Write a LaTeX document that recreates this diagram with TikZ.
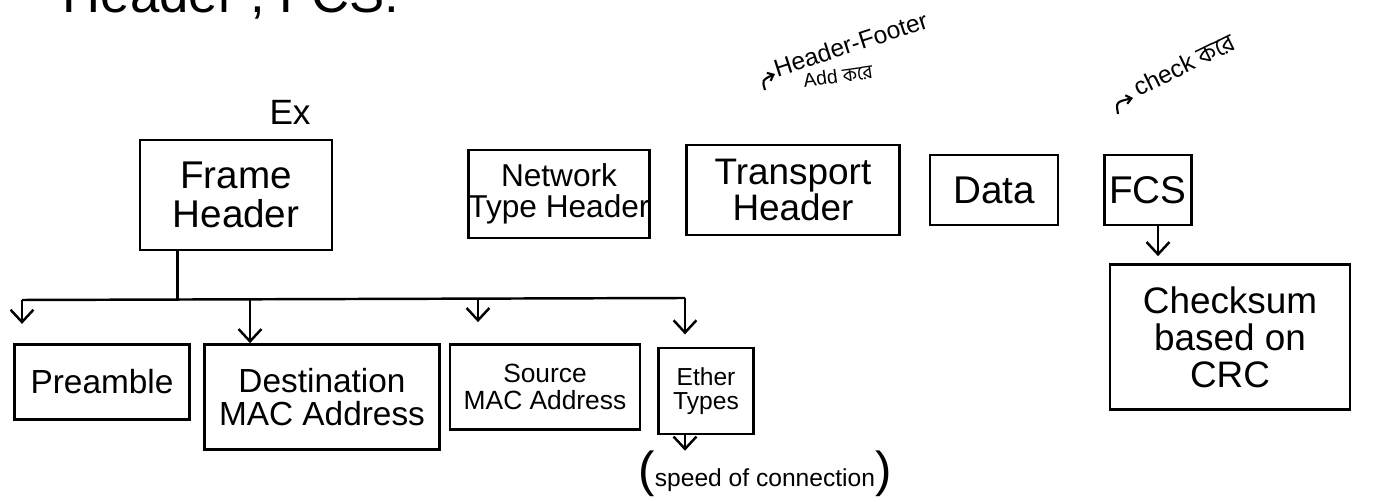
\documentclass[tikz,border=0pt]{standalone}
\usepackage{fontspec}
\setmainfont{Liberation Sans}
\newfontfamily\bnfont[Script=Bengali]{Hind Siliguri}
\usetikzlibrary{arrows.meta,calc}

\begin{document}
\begin{tikzpicture}[x=0.02cm,y=-0.02cm,
  box/.style={draw, line width=1.5pt, align=center, inner sep=0pt},
  hand/.style={font=\fontsize{#1}{#1}\selectfont},
  hand/.default=20,
  link/.style={line width=1.4pt},
  tipped/.style={link,-{Straight Barb[length=7pt,width=13pt]}},
  hook/.style={line width=1.2pt,-{Straight Barb[length=3pt,width=5pt]}}]
\useasboundingbox (0,0) rectangle (1393,502);

% heading line, cut by the page edge
\node[font=\fontsize{30}{30}\selectfont, anchor=base east, inner sep=0pt] (head) at (400,13) {Header , FCS.};

% upper row of frame parts
\node (ex) [hand=20] at (290,112) {Ex};
\node[box, minimum width=3.84cm, minimum height=2.2cm, hand=22] (fh) at (236,195) {Frame\\Header};
\node[box, minimum width=3.56cm, minimum height=1.76cm, hand=18] (nh) at (559,194) {Network\\Type Header};
\node[box, minimum width=4.26cm, minimum height=1.8cm, hand=21] (th) at (793,190) {Transport\\Header};
\node[box, minimum width=2.56cm, minimum height=1.4cm, hand=22] (data) at (994,190) {Data};
\node[box, minimum width=1.74cm, minimum height=1.4cm, hand=22] (fcs) at (1148,190) {FCS};
\node[box, minimum width=4.8cm, minimum height=2.9cm, hand=21] (crc) at (1230,337) {Checksum\\based on\\CRC};

% notes on the upper row
\coordinate (thnote) at (765,90);
\draw[hook] (thnote) .. controls (762,80) .. (775,74);
\node[hand=14, rotate=18, anchor=south west, inner sep=1pt] (hf) at (776,80) {Header-Footer};
\node[hand=11, rotate=8] (add) at (838,76) {Add {\bnfont করে}};
\coordinate (fcsnote) at (1118,114);
\draw[hook] (fcsnote) .. controls (1116,102) .. (1133,98);
\node[hand=14, rotate=26, anchor=south west, inner sep=1pt] (chk) at (1138,100) {check {\bnfont করে}};

% lower row: fields of the frame header
\node[box, minimum width=3.5cm, minimum height=1.5cm, hand=19] (pre) at (102,382) {Preamble};
\node[box, minimum width=4.7cm, minimum height=2.1cm, hand=19] (dst) at (322,397) {Destination\\MAC Address};
\node[box, minimum width=3.8cm, minimum height=1.7cm, hand=15] (src) at (545,387) {Source\\MAC Address};
\node[box, minimum width=1.9cm, minimum height=1.72cm, hand=14] (eth) at (706,391) {Ether\\Types};
\node[hand=14, inner sep=0pt] (spd) at (765,474)
  {{\fontsize{28}{28}\selectfont(}speed of connection{\fontsize{28}{28}\selectfont)}};

% tree from the frame header down to its fields
\coordinate (stem) at ($(fh.south west)!0.2!(fh.south east)$);
\coordinate (bus) at (stem |- 0,299);
\coordinate (busL) at (22,300);
\coordinate (busD) at (250,299);
\coordinate (busS) at (478,298);
\coordinate (busR) at (685,298);
\draw[link] (stem) -- (bus);
\draw[link] (busL) -- (busR);
\draw[tipped, shorten >=11pt] (busL) -- (busL |- pre.north);
\draw[tipped] (busD) -- (busD |- dst.north);
\draw[tipped, shorten >=12pt] (busS) -- (busS |- src.north);
\draw[tipped, shorten >=7pt] (busR) -- (busR |- eth.north);
\draw[tipped] (eth.south -| busR) -- (spd.north -| busR);

% checksum under the FCS field
\coordinate (fcsdrop) at ($(fcs.south)+(10,0)$);
\draw[tipped, shorten >=4pt] (fcsdrop) -- (fcsdrop |- crc.north);
\end{tikzpicture}
\end{document}
